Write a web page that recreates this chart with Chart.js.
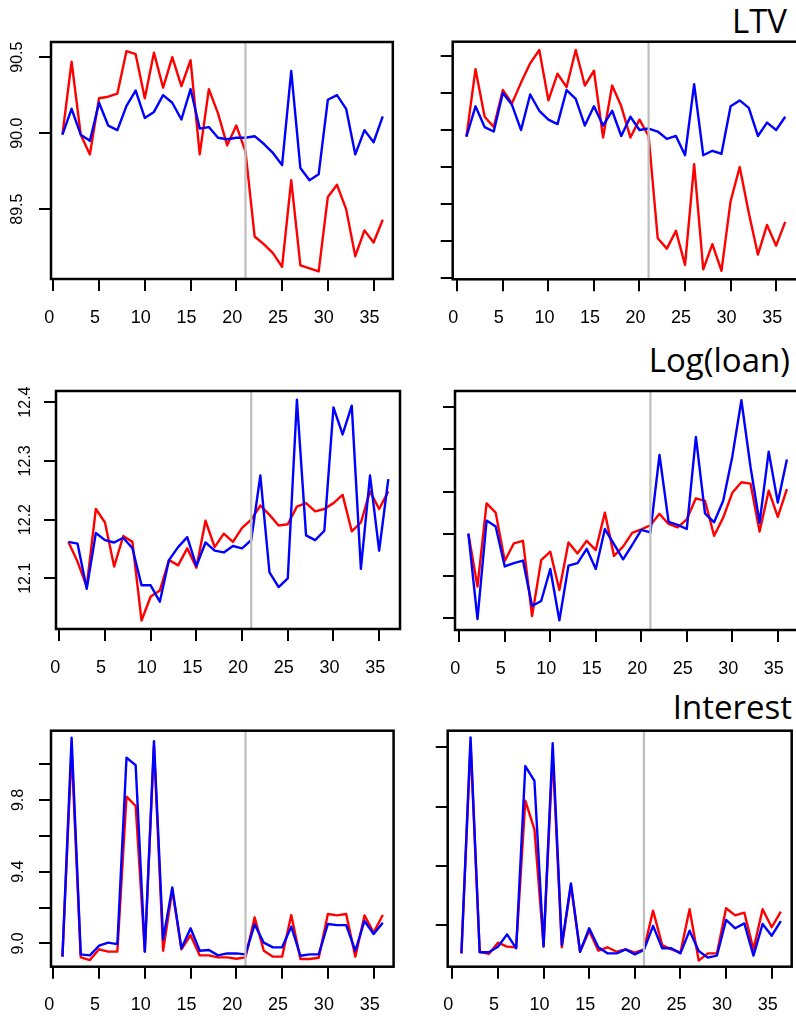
<!DOCTYPE html>
<html>
<head>
<meta charset="utf-8">
<script src="https://cdn.jsdelivr.net/npm/chart.js@4.4.1/dist/chart.umd.min.js"></script>
<style>
  html, body { margin: 0; padding: 0; background: #fff; width: 796px; height: 1019px; overflow: hidden; }
  canvas { position: absolute; }
  .title { position: absolute; font-family: 'Open Sans', sans-serif; font-size: 33px; line-height: 33px; color: #000; white-space: nowrap; }
</style>
</head>
<body>
<div class="title" style="top:4px; right:9px;">LTV</div>
<div class="title" style="top:343px; right:6px;">Log(loan)</div>
<div class="title" style="top:690px; right:4px;">Interest</div>

<canvas id="ltvL" width="400" height="340" style="left:0; top:0;"></canvas>
<canvas id="ltvR" width="420" height="340" style="left:400px; top:0;"></canvas>
<canvas id="loanL" width="410" height="340" style="left:0; top:340px;"></canvas>
<canvas id="loanR" width="420" height="340" style="left:400px; top:340px;"></canvas>
<canvas id="rateL" width="400" height="339" style="left:0; top:680px;"></canvas>
<canvas id="rateR" width="400" height="339" style="left:400px; top:680px;"></canvas>

<script>
// periods on the x axis
const periods = [1, 2, 3, 4, 5, 6, 7, 8, 9, 10, 11, 12, 13, 14, 15, 16, 17, 18,
  19, 20, 21, 22, 23, 24, 25, 26, 27, 28, 29, 30, 31, 32, 33, 34, 35, 36];
const breakPeriod = 21;
const xTicks = [0, 5, 10, 15, 20, 25, 30, 35];

// LTV
const ltvRedL = [89.99, 90.47, 89.99, 89.86, 90.23, 90.24, 90.26, 90.54, 90.52, 90.23, 90.53, 90.30,
  90.50, 90.31, 90.48, 89.86, 90.29, 90.13, 89.92, 90.05, 89.88, 89.32, 89.27, 89.21,
  89.12, 89.69, 89.13, 89.11, 89.09, 89.58, 89.66, 89.50, 89.19, 89.36, 89.28, 89.43];
const ltvBlueL = [89.99, 90.16, 89.99, 89.95, 90.20, 90.05, 90.02, 90.18, 90.28, 90.10, 90.14, 90.25,
  90.20, 90.09, 90.29, 90.03, 90.04, 89.97, 89.96, 89.97, 89.97, 89.98, 89.93, 89.87,
  89.79, 90.41, 89.77, 89.69, 89.73, 90.22, 90.25, 90.16, 89.86, 90.02, 89.94, 90.11];
const ltvRedR = [89.955, 90.41, 90.09, 90.02, 90.27, 90.18, 90.32, 90.45, 90.54, 90.20, 90.38, 90.29,
  90.54, 90.30, 90.40, 89.95, 90.30, 90.16, 89.95, 90.07, 89.96, 89.27, 89.20, 89.32,
  89.09, 89.77, 89.06, 89.23, 89.05, 89.52, 89.75, 89.44, 89.16, 89.36, 89.22, 89.38];
const ltvBlueR = [89.955, 90.16, 90.02, 89.99, 90.25, 90.17, 90.00, 90.24, 90.13, 90.07, 90.04, 90.27,
  90.21, 90.03, 90.16, 90.03, 90.13, 89.96, 90.09, 90.00, 90.01, 89.99, 89.94, 89.96,
  89.83, 90.31, 89.83, 89.86, 89.84, 90.16, 90.20, 90.15, 89.96, 90.05, 90.00, 90.09];
const ltvTicksL = [89.5, 90.0, 90.5];
const ltvTicksR = [89.0, 89.25, 89.5, 89.75, 90.0, 90.25, 90.5];

// Log(loan)
const loanRedL = [12.162, 12.128, 12.086, 12.218, 12.195, 12.120, 12.172, 12.162, 12.028, 12.069, 12.079, 12.131,
  12.122, 12.151, 12.118, 12.198, 12.153, 12.176, 12.162, 12.186, 12.200, 12.224, 12.208, 12.190,
  12.192, 12.222, 12.228, 12.214, 12.218, 12.228, 12.242, 12.180, 12.195, 12.248, 12.218, 12.248];
const loanBlueL = [12.162, 12.159, 12.082, 12.177, 12.165, 12.161, 12.169, 12.151, 12.088, 12.088, 12.060, 12.131,
  12.153, 12.170, 12.121, 12.161, 12.147, 12.144, 12.155, 12.151, 12.165, 12.275, 12.110, 12.085,
  12.100, 12.404, 12.173, 12.165, 12.181, 12.391, 12.345, 12.394, 12.116, 12.275, 12.147, 12.269];
const loanRedR = [12.200, 12.074, 12.272, 12.250, 12.135, 12.177, 12.183, 12.004, 12.137, 12.157, 12.066, 12.179,
  12.153, 12.183, 12.161, 12.250, 12.147, 12.169, 12.202, 12.210, 12.220, 12.247, 12.223, 12.215,
  12.234, 12.284, 12.278, 12.195, 12.238, 12.297, 12.322, 12.319, 12.205, 12.302, 12.240, 12.306];
const loanBlueR = [12.200, 11.997, 12.231, 12.217, 12.122, 12.130, 12.136, 12.028, 12.040, 12.116, 11.994, 12.124,
  12.130, 12.164, 12.116, 12.211, 12.175, 12.139, 12.173, 12.209, 12.203, 12.387, 12.228, 12.221,
  12.211, 12.430, 12.248, 12.227, 12.278, 12.383, 12.517, 12.359, 12.226, 12.395, 12.274, 12.376];
const loanTicksL = [12.1, 12.2, 12.3, 12.4];
const loanTicksR = [12.0, 12.1, 12.2, 12.3, 12.4, 12.5];

// Interest
const rateRedL = [8.926, 10.08, 8.922, 8.907, 8.967, 8.954, 8.954, 9.818, 9.766, 8.954, 10.10, 8.959,
  9.297, 8.967, 9.046, 8.933, 8.933, 8.922, 8.922, 8.914, 8.922, 9.145, 8.959, 8.926,
  8.926, 9.158, 8.913, 8.913, 8.920, 9.164, 9.156, 9.164, 8.926, 9.156, 9.061, 9.158];
const rateBlueL = [8.926, 10.147, 8.939, 8.933, 8.987, 9.004, 8.996, 10.035, 9.994, 8.954, 10.128, 9.022,
  9.312, 8.972, 9.084, 8.959, 8.963, 8.933, 8.944, 8.944, 8.939, 9.106, 9.004, 8.978,
  8.978, 9.093, 8.931, 8.939, 8.939, 9.108, 9.102, 9.102, 8.959, 9.125, 9.052, 9.115];
const rateRedR = [8.811, 10.22, 8.822, 8.807, 8.883, 8.856, 8.852, 9.840, 9.647, 8.861, 10.15, 8.852,
  9.272, 8.822, 8.964, 8.829, 8.852, 8.822, 8.838, 8.816, 8.838, 9.099, 8.867, 8.838,
  8.816, 9.108, 8.762, 8.811, 8.811, 9.115, 9.067, 9.085, 8.838, 9.108, 8.987, 9.092];
const rateBlueR = [8.811, 10.267, 8.818, 8.818, 8.856, 8.939, 8.845, 10.074, 9.973, 8.856, 10.227, 8.867,
  9.283, 8.822, 8.980, 8.852, 8.811, 8.811, 8.838, 8.804, 8.834, 8.996, 8.845, 8.845,
  8.811, 8.964, 8.827, 8.782, 8.796, 9.036, 8.980, 9.013, 8.796, 9.009, 8.930, 9.029];
const rateTicksL = [9.0, 9.2, 9.4, 9.6, 9.8, 10.0];
const rateLabelsL = [9.0, 9.4, 9.8];
const rateTicksR = [9.0, 9.4, 9.8, 10.2];

const X_FONT = { family: "'Liberation Sans', Arial, sans-serif", size: 18 };
const Y_FONT = { family: "'Liberation Sans', Arial, sans-serif", size: 16 };

// draws the R-style frame round the plot region
const boxPlugin = {
  id: 'box',
  afterDraw(chart) {
    const { ctx, chartArea: a } = chart;
    ctx.save();
    ctx.strokeStyle = '#000';
    ctx.lineWidth = 2.5;
    ctx.strokeRect(a.left, a.top, a.right - a.left, a.bottom - a.top);
    ctx.restore();
  }
};

function xy(vals) {
  return periods.map((p, i) => ({ x: p, y: vals[i] }));
}

function panel(id, o) {
  const ctx = document.getElementById(id);
  return new Chart(ctx, {
    type: 'line',
    data: {
      datasets: [
        { data: [{ x: breakPeriod, y: o.yMin }, { x: breakPeriod, y: o.yMax }],
          borderColor: '#bebebe', borderWidth: 2.2, pointRadius: 0 },
        { data: xy(o.blue), borderColor: '#0000ff', borderWidth: 2.4, pointRadius: 0,
          borderJoinStyle: 'round', tension: 0 },
        { data: xy(o.red), borderColor: '#ff0000', borderWidth: 2.4, pointRadius: 0,
          borderJoinStyle: 'round', tension: 0 }
      ]
    },
    options: {
      responsive: false,
      animation: false,
      events: [],
      layout: { padding: { top: o.padTop, right: o.padRight, left: 0, bottom: 0 } },
      plugins: { legend: { display: false }, tooltip: { enabled: false } },
      scales: {
        x: {
          type: 'linear',
          min: o.xMin,
          max: o.xMax,
          afterBuildTicks: s => { s.ticks = xTicks.map(v => ({ value: v })); },
          afterFit: s => { s.height = o.xh; },
          border: { display: false },
          grid: { drawOnChartArea: false, tickLength: 12, color: '#000', lineWidth: 2 },
          ticks: { autoSkip: false, maxRotation: 0, minRotation: 0, padding: 16, labelOffset: -4,
            font: X_FONT, color: '#000' }
        },
        y: {
          type: 'linear',
          min: o.yMin,
          max: o.yMax,
          afterBuildTicks: s => { s.ticks = o.yTicks.map(v => ({ value: v })); },
          afterFit: s => { s.width = o.yw; },
          border: { display: false },
          grid: { drawOnChartArea: false, tickLength: 12, color: '#000', lineWidth: 2 },
          ticks: {
            display: !!o.yLabels,
            autoSkip: false,
            minRotation: 90,
            maxRotation: 90,
            crossAlign: 'center',
            padding: o.yPad || 0,
            font: Y_FONT,
            color: '#000',
            callback: v => (o.yLabels && o.yLabels.includes(v)) ? v.toFixed(1) : ''
          }
        }
      }
    },
    plugins: [boxPlugin]
  });
}

panel('ltvL', { red: ltvRedL, blue: ltvBlueL, yTicks: ltvTicksL, yLabels: ltvTicksL,
  xMin: -0.25, xMax: 37.1, yMin: 89.04, yMax: 90.60, padTop: 42, padRight: 7, yw: 51, xh: 61, yPad: 5.5 });
panel('ltvR', { red: ltvRedR, blue: ltvBlueR, yTicks: ltvTicksR,
  xMin: -0.505, xMax: 37.4, yMin: 88.993, yMax: 90.596, padTop: 41.7, padRight: 22, yw: 52.7, xh: 60.7 });
panel('loanL', { red: loanRedL, blue: loanBlueL, yTicks: loanTicksL, yLabels: loanTicksL,
  xMin: -0.36, xMax: 37.28, yMin: 12.0136, yMax: 12.419, padTop: 51, padRight: 10, yw: 56, xh: 51, yPad: 2.5 });
panel('loanR', { red: loanRedR, blue: loanBlueR, yTicks: loanTicksR,
  xMin: -0.47, xMax: 37.22, yMin: 11.971, yMax: 12.539, padTop: 51, padRight: 22, yw: 55, xh: 50 });
panel('rateL', { red: rateRedL, blue: rateBlueL, yTicks: rateTicksL, yLabels: rateLabelsL,
  xMin: -0.25, xMax: 37.18, yMin: 8.870, yMax: 10.186, padTop: 50.7, padRight: 6, yw: 51, xh: 52.3, yPad: 9.5 });
panel('rateR', { red: rateRedR, blue: rateBlueR, yTicks: rateTicksR,
  xMin: -0.504, xMax: 37.19, yMin: 8.721, yMax: 10.312, padTop: 50.7, padRight: 8.3, yw: 47.7, xh: 52.3 });
</script>
</body>
</html>
